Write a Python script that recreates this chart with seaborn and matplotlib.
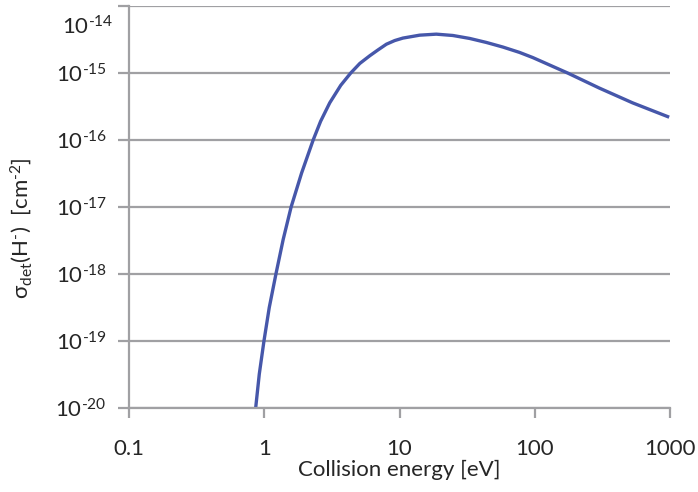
import numpy as np
import pandas as pd
import matplotlib
matplotlib.use("Agg")
import matplotlib.pyplot as plt
import seaborn as sns
from matplotlib.ticker import FixedLocator, FixedFormatter, NullLocator
import matplotlib.transforms as mtransforms

# Data
energy = [0.864, 0.919, 0.995, 1.089, 1.22, 1.38, 1.58, 1.888, 2.30, 2.61, 3.05,
          3.68, 4.36, 5.09, 6.03, 6.91, 8.0, 9.22, 10.6, 14.1, 18.7, 24.8, 33.0,
          43.8, 58.1, 77.1, 96.7, 175.0, 300.0, 528.0, 986.0]
sigma = [1.0e-20, 3.21e-20, 1.0e-19, 3.16e-19, 1.0e-18, 3.27e-18, 1.0e-17,
         3.21e-17, 1.0e-16, 1.90e-16, 3.59e-16, 6.56e-16, 1.0e-15, 1.39e-15,
         1.81e-15, 2.20e-15, 2.69e-15, 3.05e-15, 3.32e-15, 3.67e-15, 3.80e-15,
         3.63e-15, 3.28e-15, 2.86e-15, 2.44e-15, 2.03e-15, 1.70e-15, 1.0e-15,
         5.96e-16, 3.59e-16, 2.19e-16]
x_ticks = [0.1, 1, 10, 100, 1000]
x_tick_labels = ["0.1", "1", "10", "100", "1000"]
y_exps = [-20, -19, -18, -17, -16, -15, -14]

sns.set_style("white")
plt.rcParams['font.family'] = ['Lato', 'DejaVu Sans']
plt.rcParams['mathtext.fontset'] = 'custom'
plt.rcParams['mathtext.rm'] = 'Lato'
plt.rcParams['mathtext.it'] = 'Lato:italic'
plt.rcParams['mathtext.sf'] = 'Lato'

FS = 16
df = pd.DataFrame({"E": energy, "sigma": sigma})

fig = plt.figure(figsize=(6.98, 4.92), dpi=100)
ax = fig.add_axes([129/698, 1-408/492, (670-129)/698, (408-6)/492])

sns.lineplot(data=df, x="E", y="sigma", ax=ax, color="#4657AA", linewidth=2.4)
ax.lines[0].set_solid_joinstyle("round")
ax.lines[0].set_solid_capstyle("butt")
ax.set_xscale("log")
ax.set_yscale("log")
ax.set_xlim(0.1, 1000)
ax.set_ylim(1e-20, 1e-14)

grid_c = "#A0A0A3"
tick_c = "#262626"


def ylab(e):
    return r"$\mathregular{10^{\text{-}%d}}$" % abs(e)


ax.xaxis.set_major_locator(FixedLocator(x_ticks))
ax.xaxis.set_major_formatter(FixedFormatter(x_tick_labels))
ax.xaxis.set_minor_locator(NullLocator())
yt = [10.0**e for e in y_exps]
ax.yaxis.set_major_locator(FixedLocator(yt))
ax.yaxis.set_major_formatter(FixedFormatter([ylab(e) if e != -14 else "" for e in y_exps]))
ax.yaxis.set_minor_locator(NullLocator())

ax.grid(axis="y", color=grid_c, linewidth=1.6)
ax.grid(axis="x", visible=False)
ax.set_axisbelow(True)
for s in ["top", "right"]:
    ax.spines[s].set_visible(False)
ax.spines["left"].set_color(grid_c)
ax.spines["left"].set_linewidth(1.6)
ax.spines["bottom"].set_color(grid_c)
ax.spines["bottom"].set_linewidth(1.6)

ax.tick_params(axis="x", direction="out", length=7, width=1.6, color=grid_c,
               labelsize=FS, labelcolor=tick_c, pad=15, bottom=True)
ax.tick_params(axis="y", direction="out", length=8, width=1.6, color=grid_c,
               labelsize=FS, labelcolor=tick_c, pad=8, left=True)

# top tick label, shifted down to stay inside the figure (as in the reference)
trans = mtransforms.blended_transform_factory(ax.transAxes, ax.transData)
ax.annotate(ylab(-14), xy=(0, 1e-14), xycoords=trans,
            xytext=(-(8 + 8) * 0.72, -15), textcoords="offset points",
            ha="right", va="center", fontsize=FS, color=tick_c)

ax.set_xlabel("Collision energy [eV]", fontsize=FS, color=tick_c, labelpad=1)
ax.set_ylabel("")
fig.text(21/698, 1-228/492,
         r"$\mathregular{\sigma_{det}(H^{\text{-}})\ \ [cm^{\text{-}2}]}$",
         fontsize=FS, color=tick_c, rotation=90, ha="center", va="center")

fig.savefig("out.png", dpi=100)
